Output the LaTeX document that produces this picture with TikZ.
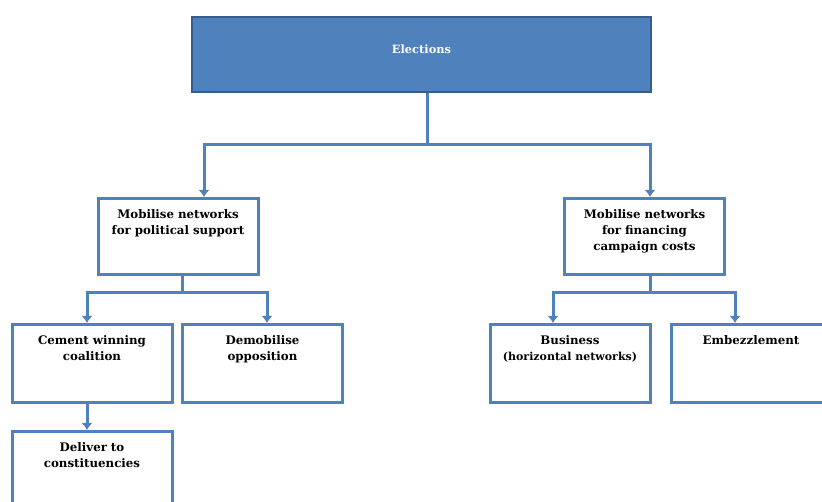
\documentclass[tikz,border=0pt]{standalone}
\usepackage{fontspec}
\setmainfont{DejaVu Serif}
\usetikzlibrary{arrows.meta,positioning}
\definecolor{boxblue}{RGB}{79,129,189}
\definecolor{edgeblue}{RGB}{56,93,138}

\begin{document}
\begin{tikzpicture}
[x=1pt,y=-1pt,
 box/.style={draw=boxblue,line width=3pt,anchor=north,align=center,inner sep=0pt,
    text width=160pt,text height=20pt,text depth=56pt,
    font=\bfseries\fontsize{11.8}{16}\selectfont},
 topbox/.style={box,draw=edgeblue,fill=boxblue,line width=2.5pt,text=white,
    text width=459pt,text height=36pt,text depth=39pt,
    font=\bfseries\fontsize{11.4}{16}\selectfont},
 link/.style={draw=boxblue,line width=3pt},
 arrow/.style={link,-{Latex[length=7pt,width=11pt]}}]
\useasboundingbox (0,0) rectangle (822,502);
\clip (0,0) rectangle (822,502);

\node[topbox] (elections) at (421.5,16) {Elections};

\node[box] (politics) at (178,197) {Mobilise networks\\for political support};
\node[box] (finance) at (644.5,197) {Mobilise networks\\for financing\\campaign costs};

\node[box,text depth=58pt] (cement) at (92,323) {Cement winning\\coalition};
\node[box,text depth=58pt] (demob) at (262.5,323) {Demobilise\\opposition};
\node[box,text depth=58pt] (deliver) at (92,430) {Deliver to\\constituencies};
\node[box,text depth=58pt] (business) at (570,323)
{Business\\{\fontsize{11}{16}\selectfont(horizontal networks)}};
\node[box,text depth=58pt] (embezzle) at (751,323) {Embezzlement};

% split points
\coordinate (e0) at (427,145);
\coordinate (p0) at (182,293);
\coordinate (f0) at (650,293);

\draw[link] (elections.south -| e0) -- (e0);
\draw[arrow] (e0) -| ([xshift=26pt]politics.north);
\draw[arrow] (e0) -| ([xshift=5.5pt]finance.north);

\draw[link] (politics.south -| p0) -- (p0);
\draw[arrow] (p0) -| ([xshift=-5pt]cement.north);
\draw[arrow] (p0) -| ([xshift=4.5pt]demob.north);
\draw[arrow] ([xshift=-5pt]cement.south) -- ([xshift=-5pt]deliver.north);

\draw[link] (finance.south -| f0) -- (f0);
\draw[arrow] (f0) -| ([xshift=-17pt]business.north);
\draw[arrow] (f0) -| ([xshift=-16pt]embezzle.north);
\end{tikzpicture}
\end{document}
